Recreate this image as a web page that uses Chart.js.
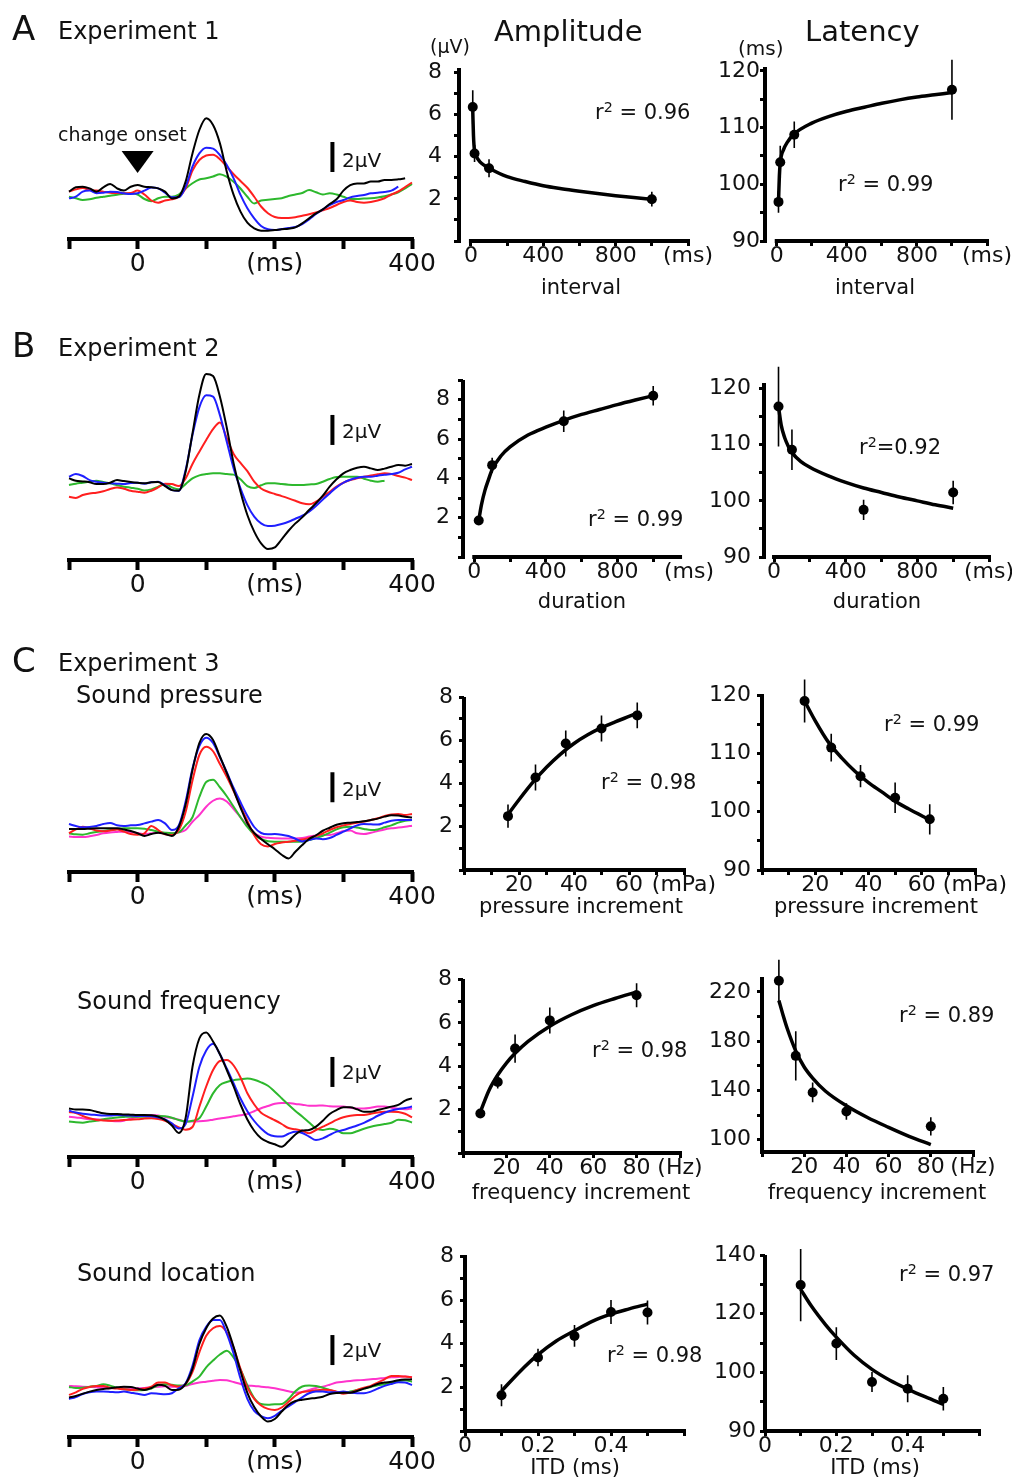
<!DOCTYPE html>
<html>
<head>
<meta charset="utf-8">
<script src="https://cdn.jsdelivr.net/npm/chart.js@4.4.1/dist/chart.umd.min.js"></script>
<style>
html,body{margin:0;padding:0;background:#fff;}
body{width:1012px;height:1481px;position:relative;overflow:hidden;font-family:"DejaVu Sans",sans-serif;color:#111;}
canvas{position:absolute;z-index:1;}
.t{position:absolute;white-space:nowrap;line-height:1;color:#111;z-index:5;font-family:"DejaVu Sans",sans-serif;}
.t sup{font-size:0.68em;vertical-align:0.5em;line-height:0;}
</style>
</head>
<body>
<script>
// ===================== DATA =====================
// ERP traces (µV), sampled every 10 ms from -100 to 400 ms
const waveTimesMs = [-100,-90,-80,-70,-60,-50,-40,-30,-20,-10,0,10,20,30,40,50,60,70,80,90,100,110,120,130,140,150,160,170,180,190,200,210,220,230,240,250,260,270,280,290,300,310,320,330,340,350,360,370,380,390,400];
const waveTickMs = [-100,0,100,200,300,400];
const waveTickLabels = ['','0','','(ms)','','400'];

// Experiment 1
const exp1Black = [-0.11,0.18,0.22,0.11,-0.11,0.18,0.4,0.11,-0.04,0.22, 0.33,0.22,0.18,0.11,-0.11,-0.56,-0.44,0.56,2.44,4.0, 4.78,4.33,3.11,1.22,-0.33,-1.44,-2.18,-2.56,-2.71,-2.71, -2.67,-2.62,-2.58,-2.49,-2.22,-1.89,-1.56,-1.29,-0.93,-0.62, -0.04,0.33,0.44,0.44,0.56,0.56,0.67,0.67,0.71,0.78, null];
const exp1Blue = [-0.56,-0.44,-0.11,-0.04,-0.22,-0.18,-0.11,-0.13,-0.22,-0.27, -0.22,-0.04,0.16,0.11,-0.18,-0.49,-0.49,0.22,1.56,2.44, 2.82,2.76,2.33,1.67,0.78,-0.33,-1.22,-1.89,-2.4,-2.62, -2.67,-2.6,-2.53,-2.47,-2.27,-1.96,-1.6,-1.29,-1.0,-0.8, -0.67,-0.49,-0.4,-0.33,-0.22,-0.18,-0.13,-0.04,0.22,null, null];
const exp1Red = [-0.11,0.04,0.13,0.0,-0.04,-0.11,-0.18,-0.2,-0.22,-0.2, -0.04,-0.3,-0.7,-0.85,-0.7,-0.62,-0.44,0.1,1.3,2.0, 2.3,2.35,2.05,1.55,1.05,0.6,0.15,-0.45,-1.1,-1.55, -1.8,-1.87,-1.87,-1.82,-1.72,-1.62,-1.5,-1.35,-1.2,-1.0, -0.8,-0.7,-0.8,-0.85,-0.8,-0.7,-0.55,-0.3,-0.1,0.2, 0.5];
const exp1Green = [-0.44,-0.55,-0.67,-0.62,-0.52,-0.45,-0.38,-0.32,-0.25,-0.22, -0.3,-0.6,-0.75,-0.55,-0.45,-0.45,-0.3,0.1,0.45,0.7, 0.78,0.9,1.05,0.88,0.55,0.1,-0.45,-0.9,-0.7,-0.65, -0.6,-0.55,-0.4,-0.3,-0.2,0.0,-0.15,-0.3,-0.22,-0.3, -0.45,-0.6,-0.6,-0.57,-0.55,-0.5,-0.42,-0.3,-0.15,0.1, 0.4];

// Experiment 2
const exp2Black = [0.22,0.07,0.02,-0.04,-0.16,-0.16,-0.07,0.11,0.04,-0.02, -0.07,-0.11,-0.04,-0.02,-0.29,-0.56,-0.6,0.67,3.22,5.78, 7.18,7.04,5.67,3.6,1.22,-0.67,-2.22,-3.33,-4.11,-4.49, -4.38,-3.84,-3.27,-2.78,-2.38,-1.89,-1.44,-0.93,-0.33,0.16, 0.56,0.78,0.93,1.0,0.89,0.78,0.87,1.0,1.11,1.07, 1.18];
const exp2Blue = [0.33,0.51,0.38,0.11,0,-0.07,-0.11,-0.13,-0.16,-0.09, -0.07,-0.13,-0.04,0,-0.24,-0.56,-0.6,0.78,3.11,4.96, 5.76,5.67,4.44,2.67,0.89,-0.44,-1.56,-2.33,-2.78,-2.96, -2.93,-2.82,-2.67,-2.47,-2.27,-2.0,-1.62,-1.18,-0.78,-0.38, -0.07,0.13,0.27,0.33,0.33,0.4,0.47,0.51,0.6,0.82, 1.0];
const exp2Red = [-1.0,-1.09,-0.89,-0.78,-0.73,-0.64,-0.49,-0.38,-0.47,-0.6, -0.67,-0.73,-0.6,-0.38,-0.13,-0.16,-0.29,0.22,1.18,2.0, 2.78,3.5,3.95,2.9,1.85,1.25,0.7,0.0,-0.45,-0.67, -0.82,-0.96,-1.11,-1.27,-1.44,-1.51,-1.33,-1.0,-0.67,-0.33, -0.07,0.11,0.22,0.33,0.42,0.49,0.56,0.51,0.38,0.27, 0.11];
const exp2Green = [-0.22,-0.13,-0.07,0,0.07,-0.02,-0.11,-0.24,-0.33,-0.4, -0.47,-0.58,-0.51,-0.33,-0.16,-0.38,-0.51,-0.16,0.22,0.42, 0.51,0.56,0.56,0.51,0.47,0.16,-0.29,-0.42,-0.24,-0.11, -0.11,-0.16,-0.2,-0.22,-0.22,-0.18,-0.16,0,0.18,0.31, 0.33,0.33,0.33,0.2,0.07,0,0.07,null,null,null, null];

// Experiment 3 - sound pressure
const presBlack = [0.07,0.07,0.07,0.09,0.11,0.11,0.11,0.11,0.04,-0.07, -0.22,-0.4,-0.27,-0.18,-0.27,-0.4,0.2,1.7,4.0,5.8, 6.4,6.0,4.9,3.8,2.65,1.5,0.45,-0.2,-0.6,-0.95, -1.28,-1.65,-1.9,-1.45,-1.0,-0.6,-0.35,-0.05,0.15,0.35, 0.45,0.49,0.53,0.58,0.67,0.76,0.89,0.98,0.96,0.89, 0.84];
const presBlue = [0.4,0.27,0.18,0.2,0.27,0.4,0.47,0.31,0.27,0.31, 0.33,0.44,0.56,0.67,0.44,0,0.3,1.9,4.1,5.6, 6.15,5.8,4.85,3.85,2.8,1.85,0.95,0.2,-0.2,-0.29, -0.27,-0.31,-0.4,-0.58,-0.76,-0.67,-0.56,-0.62,-0.53,-0.33, -0.11,0.11,0.31,0.4,0.38,0.36,0.49,0.62,0.67,0.67, 0.67];
const presRed = [-0.22,0.04,0.22,0.11,-0.04,-0.09,-0.04,0.04,-0.11,-0.27, -0.31,-0.22,0.27,0,-0.29,-0.33,0.0,1.2,3.3,5.0, 5.55,5.25,4.4,3.55,2.6,1.6,0.6,-0.35,-0.95,-1.1, -0.93,-0.84,-0.78,-0.71,-0.64,-0.53,-0.4,-0.22,0,0.18, 0.31,0.4,0.49,0.56,0.67,0.78,0.93,1.04,1.07,1.0, 1.07];
const presGreen = [-0.22,-0.29,-0.31,-0.22,-0.13,-0.07,0,0.07,0.11,0.11, 0.11,0.09,0,-0.11,-0.18,-0.22,-0.16,0.3,0.85,2.2, 3.2,3.35,2.85,2.25,1.55,0.85,0.2,-0.3,-0.6,-0.75, -0.78,-0.78,-0.78,-0.78,-0.76,-0.67,-0.53,-0.38,-0.18,0.04, 0.18,0.22,0.16,0.07,0,0.04,0.18,0.31,0.49,0.62, 0.67];
const presMagenta = [-0.44,-0.47,-0.47,-0.42,-0.33,-0.22,-0.16,-0.13,-0.11,-0.13, -0.2,-0.27,-0.22,-0.18,-0.2,-0.22,-0.15,0.0,0.55,1.0, 1.55,1.95,2.1,1.9,1.4,0.85,0.3,-0.2,-0.45,-0.52, -0.55,-0.56,-0.56,-0.56,-0.53,-0.44,-0.36,-0.33,-0.33,-0.22, -0.07,-0.04,-0.22,-0.27,-0.18,-0.07,0.04,0.11,0.16,0.22, 0.29];

// Experiment 3 - sound frequency
const freqBlack = [0.44,0.36,0.36,0.33,0.22,0.11,0.07,0.07,0.04,0.02, 0,0,-0.02,-0.11,-0.33,-0.7,-1.2,-0.2,3.2,5.1, 5.5,4.9,4.05,3.0,1.9,0.7,-0.3,-1.05,-1.55,-1.8, -1.95,-2.12,-1.75,-1.3,-1.04,-1.0,-0.78,-0.38,0.07,0.33, 0.51,0.51,0.38,0.22,0.22,0.33,0.44,0.56,0.67,0.96, 1.11];
const freqBlue = [0.29,0.16,0.09,0.04,0,-0.04,-0.04,0,-0.02,-0.04, -0.07,-0.07,-0.09,-0.16,-0.29,-0.56,-0.9,-0.6,1.2,3.2, 4.3,4.75,4.05,3.1,2.1,1.1,0.25,-0.4,-0.9,-1.27, -1.42,-1.44,-1.25,-1.12,-1.2,-1.44,-1.67,-1.56,-1.33,-1.11, -1.0,-0.85,-0.7,-0.52,-0.3,-0.05,0.15,0.3,0.4,0.46, 0.56];
const freqRed = [0.2,0.13,-0.07,-0.22,-0.33,-0.36,-0.38,-0.36,-0.33,-0.31, -0.29,-0.24,-0.22,-0.27,-0.38,-0.6,-0.82,-0.98,-0.8,0.55, 1.9,3.0,3.6,3.66,3.3,2.5,1.45,0.7,0.15,-0.12, -0.35,-0.6,-0.87,-0.95,-1.05,-1.22,-1.0,-0.78,-0.56,-0.33, -0.15,-0.05,0,0,0.08,0.16,0.21,0.22,0.2,0.08, -0.16];
const freqGreen = [-0.44,-0.49,-0.51,-0.44,-0.38,-0.29,-0.22,-0.16,-0.13,-0.11, -0.11,-0.11,-0.09,-0.07,-0.09,-0.18,-0.33,-0.44,-0.38,-0.22, 0.56,1.44,2.0,2.2,2.32,2.38,2.43,2.35,2.18,1.95, 1.55,1.12,0.68,0.27,-0.1,-0.5,-0.89,-1.0,-0.92,-1.0, -1.22,-1.22,-1.08,-0.92,-0.78,-0.68,-0.6,-0.52,-0.32,-0.35, -0.5];
const freqMagenta = [-0.11,-0.16,-0.22,-0.27,-0.29,-0.33,-0.38,-0.42,-0.38,-0.24, -0.11,-0.04,0,-0.04,-0.13,-0.2,-0.31,-0.44,-0.44,-0.42, -0.38,-0.31,-0.24,-0.16,-0.09,-0.02,0.07,0.25,0.45,0.6, 0.75,0.8,0.8,0.73,0.69,0.62,0.62,0.64,0.58,0.56, 0.56,0.49,0.44,0.44,0.49,0.56,0.56,0.49,0.42,0.38, 0.44];

// Experiment 3 - sound location
const locBlack = [-0.62,-0.51,-0.36,-0.22,-0.11,-0.04,0,0.07,0.11,0.09, -0.02,-0.11,0.02,0.24,0.16,-0.11,-0.09,0.3,1.3,2.95, 4.0,4.65,4.85,4.1,2.75,1.15,-0.3,-1.25,-1.88,-2.22, -2.05,-1.55,-1.1,-0.85,-0.76,-0.69,-0.64,-0.56,-0.38,-0.31, -0.29,-0.29,-0.18,-0.02,0.11,0.29,0.38,0.44,0.53,0.58, 0.6];
const locBlue = [-0.71,-0.58,-0.38,-0.27,-0.22,-0.22,-0.24,-0.27,-0.22,-0.29, -0.36,-0.44,-0.33,-0.36,-0.4,-0.33,0,0.33,1.5,3.2, 4.1,4.55,4.55,3.65,2.3,0.65,-0.7,-1.5,-1.85,-2.0, -1.84,-1.5,-1.2,-0.9,-0.6,-0.33,-0.22,-0.22,-0.27,-0.27, -0.22,-0.29,-0.33,-0.33,-0.22,-0.02,0.16,0.29,0.4,0.38, 0.22];
const locRed = [-0.44,-0.27,-0.04,0.09,0.16,0.16,0.04,-0.02,-0.07,-0.11, -0.09,-0.02,0.11,0.38,0.38,0.2,0.11,0.29,1.1,2.4, 3.5,4.0,4.15,3.72,2.7,1.3,0.05,-0.7,-1.15,-1.37, -1.44,-1.28,-0.9,-0.5,-0.25,-0.2,-0.13,-0.09,-0.11,-0.22, -0.36,-0.29,-0.11,0.04,0.16,0.38,0.6,0.82,0.82,0.78, 0.73];
const locGreen = [0.09,0.02,0.04,0.11,0.16,0.27,0.18,0.04,-0.04,-0.11, -0.13,-0.11,-0.02,0.2,0.27,0.24,0.18,0.2,0.45,0.78, 1.4,1.85,2.25,2.5,2.05,1.25,0.2,-0.65,-1.05,-1.1, -1.06,-1.04,-0.72,-0.2,0.12,0.18,0.16,0.04,-0.11,-0.24, -0.29,-0.22,-0.11,-0.02,0.09,0.2,0.27,0.38,0.47,0.53, 0.44];
const locMagenta = [0.16,0.13,0.11,0.09,0.07,0.02,0,0.02,0.02,0, 0,0.02,0.07,0.11,0.13,0.11,0.11,0.16,0.29,0.38, 0.44,0.51,0.56,0.53,0.42,0.29,0.18,0.16,0.11,0.07, 0,-0.09,-0.2,-0.29,-0.24,-0.11,0.02,0.11,0.24,0.38, 0.44,0.49,0.53,0.56,0.6,0.64,0.69,0.73,0.76,0.78, 0.73];

// Experiment 1: interval
const intervalMs = [10, 20, 100, 1000];
const intervalAmpUV = [6.35, 4.15, 3.45, 1.98];
const intervalAmpErr = [0.8, 0.4, 0.43, 0.35];
const intervalAmpFitMs = [10,14,20,30,50,75,100,200,300,400,500,600,700,800,900,1000];
const intervalAmpFitUV = [6.2,5.0,4.25,4.0,3.75,3.58,3.45,3.05,2.82,2.62,2.48,2.36,2.25,2.15,2.06,1.98];
const intervalLatMs = [96.9, 103.9, 108.75, 116.7];
const intervalLatErr = [1.9, 2.9, 2.35, 5.3];
const intervalLatFitX = [10,15,20,40,60,100,200,300,400,500,600,700,800,900,1000];
const intervalLatFitMs = [96.8,101.5,103.8,106.2,107.4,108.9,110.8,112.0,112.9,113.6,114.3,114.9,115.4,115.8,116.2];

// Experiment 2: duration
const durationMs = [25, 100, 500, 1000];
const durationAmpUV = [1.86, 4.67, 6.9, 8.2];
const durationAmpErr = [0.15, 0.38, 0.55, 0.5];
const durationAmpFitMs = [25,40,60,80,100,150,200,300,400,500,600,700,800,900,1000];
const durationAmpFitUV = [1.86,2.65,3.4,3.95,4.45,5.15,5.6,6.2,6.6,6.95,7.25,7.5,7.75,7.98,8.2];
const durationLatMs = [116.8, 109.1, 98.4, 101.5];
const durationLatErr = [7.1, 3.6, 1.8, 2.1];
const durationLatFitX = [25,40,60,80,100,150,200,300,400,500,600,700,800,900,1000];
const durationLatFitMs = [116.8,113.5,111.2,109.7,108.6,107,106,104.5,103.3,102.3,101.5,100.7,100,99.3,98.7];

// Experiment 3: pressure increment (mPa)
const pressureMPa = [16, 26, 37, 50, 63];
const pressureAmpUV = [2.49, 4.28, 5.85, 6.54, 7.15];
const pressureAmpErr = [0.54, 0.6, 0.6, 0.6, 0.6];
const pressureAmpFitMPa = [15,20,25,30,35,40,45,50,55,60,64];
const pressureAmpFitUV = [2.4,3.25,4.05,4.75,5.35,5.85,6.25,6.58,6.85,7.1,7.3];
const pressureLatMs = [119.0, 111.0, 106.1, 102.4, 98.7];
const pressureLatErr = [3.7, 2.4, 1.9, 2.6, 2.6];
const pressureLatFitMPa = [16,20,25,30,35,40,45,50,55,63];
const pressureLatFitMs = [119,115.6,111.9,109.2,106.9,105.0,103.4,101.8,100.5,98.6];

// Experiment 3: frequency increment (Hz)
const freqHz = [8, 16, 24, 40, 80];
const freqAmpUV = [1.82, 3.28, 4.82, 6.12, 7.28];
const freqAmpErr = [0.2, 0.3, 0.65, 0.6, 0.55];
const freqAmpFitHz = [8,12,16,20,24,30,40,50,60,70,80];
const freqAmpFitUV = [1.9,2.9,3.6,4.15,4.6,5.15,5.85,6.38,6.8,7.13,7.43];
const freqLatMs = [228.9, 168, 138.3, 122.9, 110.8];
const freqLatErr = [17, 20, 8, 6.7, 7.4];
const freqLatFitHz = [8,10,12,16,20,24,30,40,50,60,70,80];
const freqLatFitMs = [213,201,190,172,159,150,139.5,127.5,118,110,102.5,96];

// Experiment 3: ITD (ms)
const itdMs = [0.1, 0.2, 0.3, 0.4, 0.5];
const itdAmpUV = [1.64, 3.37, 4.36, 5.46, 5.43];
const itdAmpErr = [0.5, 0.4, 0.5, 0.55, 0.55];
const itdAmpFitMs = [0.1,0.15,0.2,0.25,0.3,0.35,0.4,0.45,0.5];
const itdAmpFitUV = [1.83,2.72,3.5,4.13,4.6,5.04,5.36,5.6,5.82];
const itdLatMs = [129.75, 109.8, 96.7, 94.4, 91.0];
const itdLatErr = [12.3, 5.6, 3.4, 4.6, 4.0];
const itdLatFitX = [0.1,0.13,0.17,0.2,0.25,0.3,0.35,0.4,0.45,0.5];
const itdLatFitMs = [128.3,122.6,116.2,112,105.8,101,97.3,94.3,91.6,89.1];

// Tick values and labels
const msTicks = [0,200,400,600,800,1000,1200];
const msTickLabels = ['0','','400','','800','','(ms)'];
const ampTicks8 = [0,1,2,3,4,5,6,7,8];
const ampTickLabels8 = ['','','2','','4','','6','','8'];
const ampTicks9 = [0,1,2,3,4,5,6,7,8,9];
const ampTickLabels9 = ['','','2','','4','','6','','8',''];
const latTicks = [90,95,100,105,110,115,120];
const latTickLabels = ['90','','100','','110','','120'];
const pressureTicks = [0,10,20,30,40,50,60,70,80];
const pressureTickLabels = ['','','20','','40','','60','','(mPa)'];
const freqTicks = [0,20,40,60,80,100];
const freqTickLabels = ['','20','40','60','80','(Hz)'];
const freqLatTicks = [100,120,140,160,180,200,220];
const freqLatTickLabels = ['100','','140','','180','','220'];
const itdTicks = [0,0.1,0.2,0.3,0.4,0.5,0.6];
const itdTickLabels = ['0','','0.2','','0.4','',''];
const itdLatTicks = [80,90,100,110,120,130,140];
const itdLatTickLabels = ['90','','100','','120','','140'];

// ===================== RENDERING =====================
const FONT = '"DejaVu Sans", sans-serif';
const COL = {black:'#000000', blue:'#1f1fff', red:'#ff1f1f', green:'#2db82d', magenta:'#ff33cc'};

function placeCanvas(left, top, w, h) {
  const c = document.createElement('canvas');
  c.width = w; c.height = h;
  c.style.left = left + 'px'; c.style.top = top + 'px';
  c.style.width = w + 'px'; c.style.height = h + 'px';
  document.body.appendChild(c);
  return c.getContext('2d');
}
function addText(html, x, baseline, size, align) {
  const d = document.createElement('div');
  d.className = 't';
  d.innerHTML = html;
  d.style.fontSize = size + 'px';
  d.style.top = (baseline - 0.846 * size) + 'px';
  d.style.left = x + 'px';
  if (align === 'center') d.style.transform = 'translateX(-50%)';
  document.body.appendChild(d);
}
function explicitTicks(values) {
  return function (scale) { scale.ticks = values.map(v => ({ value: v })); };
}
function labelFrom(values, labels) {
  return function (value) { const i = values.indexOf(value); return i >= 0 ? labels[i] : ''; };
}
function decorPlugin(d) {
  return {
    id: 'decor',
    beforeDatasetsDraw(chart) {
      const ctx = chart.ctx, a = chart.chartArea, xs = chart.scales.x, ys = chart.scales.y;
      const w = d.axisWidth;
      ctx.save();
      ctx.strokeStyle = '#000'; ctx.fillStyle = '#000'; ctx.lineCap = 'butt';
      ctx.lineWidth = w;
      if (d.xLine) {
        ctx.beginPath();
        ctx.moveTo(xs.getPixelForValue(d.xLine[0]) - w / 2, a.bottom);
        ctx.lineTo(xs.getPixelForValue(d.xLine[1]) + w / 2, a.bottom);
        ctx.stroke();
      }
      if (d.yLine) {
        ctx.beginPath();
        ctx.moveTo(a.left, ys.getPixelForValue(d.yLine[0]) + w / 2);
        ctx.lineTo(a.left, ys.getPixelForValue(d.yLine[1]));
        ctx.stroke();
      }
      if (d.scaleBar) {
        const x = xs.getPixelForValue(d.scaleBarX);
        ctx.lineWidth = 4;
        ctx.beginPath();
        ctx.moveTo(x, ys.getPixelForValue(d.scaleBar[0]));
        ctx.lineTo(x, ys.getPixelForValue(d.scaleBar[1]));
        ctx.stroke();
      }
      if (d.onset) {
        const x = xs.getPixelForValue(d.onset.t);
        const yA = ys.getPixelForValue(d.onset.apex), yT = ys.getPixelForValue(d.onset.top);
        ctx.beginPath();
        ctx.moveTo(x - 16, yT); ctx.lineTo(x + 16, yT); ctx.lineTo(x, yA); ctx.closePath();
        ctx.fill();
      }
      ctx.restore();
    }
  };
}
const baseOpts = {
  responsive: false, animation: false, devicePixelRatio: 1, events: [],
  plugins: { legend: { display: false }, tooltip: { enabled: false } }
};

function makeWave(spec) {
  const L = 40, R = 40, T = 5, B = 45, H = 195;
  const left = 69, right = 412;
  const ctx = placeCanvas(left - L, spec.axisY - H - T, right - left + L + R, H + T + B);
  const yMin = -(spec.axisY - spec.baseY) / 15;
  const yMax = yMin + H / 15;
  const datasets = spec.traces.map(([vals, color]) => ({
    data: waveTimesMs.map((t, i) => ({ x: t, y: vals[i] })),
    borderColor: color, borderWidth: 2, pointRadius: 0,
    cubicInterpolationMode: 'monotone', clip: false, spanGaps: false
  }));
  new Chart(ctx, {
    type: 'line',
    data: { datasets },
    options: Object.assign({}, baseOpts, {
      layout: { padding: { left: L, right: R, top: T, bottom: 0 } },
      scales: {
        x: {
          type: 'linear', min: -100, max: 400,
          afterBuildTicks: explicitTicks(waveTickMs),
          afterFit: s => { s.height = B; },
          ticks: { callback: labelFrom(waveTickMs, waveTickLabels), autoSkip: false, maxRotation: 0, minRotation: 0, padding: 0, color: '#111', font: { family: FONT, size: 25 } },
          grid: { display: true, drawOnChartArea: false, drawTicks: true, tickLength: 10, tickWidth: 4, tickColor: '#000' },
          border: { display: false }
        },
        y: { display: false, min: yMin, max: yMax }
      }
    }),
    plugins: [decorPlugin({ axisWidth: 4, xLine: [-100, 400], scaleBar: spec.scaleBar, scaleBarX: 284, onset: spec.onset })]
  });
}

function makeScatter(s) {
  const L = 60, R = 45, T = 30, B = 40;
  const a = s.area;
  const ctx = placeCanvas(a.l - L, a.t - T, a.r - a.l + L + R, a.b - a.t + T + B);
  const pts = s.x.map((v, i) => ({ x: v, y: s.y[i] }));
  const err = [];
  s.x.forEach((v, i) => { err.push({ x: v, y: s.y[i] - s.e[i] }, { x: v, y: s.y[i] + s.e[i] }, { x: v, y: null }); });
  const fit = s.fx.map((v, i) => ({ x: v, y: s.fy[i] }));
  const noMark = s.noMark || [];
  new Chart(ctx, {
    type: 'line',
    data: { datasets: [
      { data: pts, showLine: false, pointRadius: 5, pointBackgroundColor: '#000', pointBorderWidth: 0, borderColor: '#000', clip: false },
      { data: err, borderColor: '#000', borderWidth: 1.6, pointRadius: 0, spanGaps: false, clip: false },
      { data: fit, borderColor: '#000', borderWidth: 3.5, pointRadius: 0, cubicInterpolationMode: 'monotone', clip: false }
    ] },
    options: Object.assign({}, baseOpts, {
      layout: { padding: { left: 0, right: R, top: T, bottom: 0 } },
      scales: {
        x: {
          type: 'linear', min: s.xr[0], max: s.xr[1],
          afterBuildTicks: explicitTicks(s.xt),
          afterFit: sc => { sc.height = B; },
          ticks: { callback: labelFrom(s.xt, s.xl), autoSkip: false, maxRotation: 0, minRotation: 0, padding: -3, color: '#111', font: { family: FONT, size: 22 } },
          grid: { display: true, drawOnChartArea: false, drawTicks: true, tickLength: 5, tickWidth: 3,
                  tickColor: c => (c.tick && noMark.includes(c.tick.value)) ? 'rgba(0,0,0,0)' : '#000' },
          border: { display: false }
        },
        y: {
          type: 'linear', min: s.yr[0], max: s.yr[1],
          afterBuildTicks: explicitTicks(s.yt),
          afterFit: sc => { sc.width = L; },
          ticks: { callback: labelFrom(s.yt, s.yl), autoSkip: false, padding: s.yPad, color: '#111', font: { family: FONT, size: 22 } },
          grid: { display: true, drawOnChartArea: false, drawTicks: true, tickLength: 5, tickWidth: 3, tickColor: '#000' },
          border: { display: false }
        }
      }
    }),
    plugins: [decorPlugin({ axisWidth: 4, xLine: s.xLine, yLine: [s.yr[0], s.yr[1]] })]
  });
}

// ---- waveform panels ----
makeWave({ axisY: 239, baseY: 190, scaleBar: [1.2, 3.2], onset: { t: 0, apex: 1.13, top: 2.6 },
  traces: [[exp1Black, COL.black], [exp1Blue, COL.blue], [exp1Red, COL.red], [exp1Green, COL.green]] });
makeWave({ axisY: 560, baseY: 481.7, scaleBar: [2.45, 4.45],
  traces: [[exp2Black, COL.black], [exp2Blue, COL.blue], [exp2Red, COL.red], [exp2Green, COL.green]] });
makeWave({ axisY: 872, baseY: 830, scaleBar: [1.85, 3.85],
  traces: [[presBlack, COL.black], [presBlue, COL.blue], [presRed, COL.red], [presGreen, COL.green], [presMagenta, COL.magenta]] });
makeWave({ axisY: 1157, baseY: 1115, scaleBar: [1.87, 3.87],
  traces: [[freqBlack, COL.black], [freqBlue, COL.blue], [freqRed, COL.red], [freqGreen, COL.green], [freqMagenta, COL.magenta]] });
makeWave({ axisY: 1437, baseY: 1388.3, scaleBar: [1.55, 3.55],
  traces: [[locBlack, COL.black], [locBlue, COL.blue], [locRed, COL.red], [locGreen, COL.green], [locMagenta, COL.magenta]] });

// ---- amplitude / latency panels ----
makeScatter({ area: { l: 459, t: 68, r: 688, b: 241 }, xr: [-66, 1200], yr: [0, 8.2], xLine: [0, 1200],
  xt: msTicks, xl: msTickLabels, yt: ampTicks8, yl: ampTickLabels8, yPad: 12,
  x: intervalMs, y: intervalAmpUV, e: intervalAmpErr, fx: intervalAmpFitMs, fy: intervalAmpFitUV });
makeScatter({ area: { l: 765, t: 67, r: 987, b: 241 }, xr: [-67, 1200], yr: [90, 120.7], xLine: [0, 1200],
  xt: msTicks, xl: msTickLabels, yt: latTicks, yl: latTickLabels, yPad: 0,
  x: intervalMs, y: intervalLatMs, e: intervalLatErr, fx: intervalLatFitX, fy: intervalLatFitMs });

makeScatter({ area: { l: 463, t: 380, r: 689, b: 557 }, xr: [-63, 1200], yr: [0, 9], xLine: [0, 1150], noMark: [1200],
  xt: msTicks, xl: msTickLabels, yt: ampTicks9, yl: ampTickLabels9, yPad: 8,
  x: durationMs, y: durationAmpUV, e: durationAmpErr, fx: durationAmpFitMs, fy: durationAmpFitUV });
makeScatter({ area: { l: 764, t: 383, r: 989, b: 557 }, xr: [-56, 1200], yr: [90, 121], xLine: [0, 1200],
  xt: msTicks, xl: msTickLabels, yt: latTicks, yl: latTickLabels, yPad: 8,
  x: durationMs, y: durationLatMs, e: durationLatErr, fx: durationLatFitX, fy: durationLatFitMs });

makeScatter({ area: { l: 464, t: 697, r: 684, b: 870 }, xr: [0, 80], yr: [0, 8], xLine: [0, 80],
  xt: pressureTicks, xl: pressureTickLabels, yt: ampTicks8, yl: ampTickLabels8, yPad: 6,
  x: pressureMPa, y: pressureAmpUV, e: pressureAmpErr, fx: pressureAmpFitMPa, fy: pressureAmpFitUV });
makeScatter({ area: { l: 762, t: 694, r: 975, b: 870 }, xr: [0, 80], yr: [90, 120.2], xLine: [0, 80],
  xt: pressureTicks, xl: pressureTickLabels, yt: latTicks, yl: latTickLabels, yPad: 6,
  x: pressureMPa, y: pressureLatMs, e: pressureLatErr, fx: pressureLatFitMPa, fy: pressureLatFitMs });

makeScatter({ area: { l: 463, t: 979, r: 680, b: 1153 }, xr: [0, 100], yr: [0, 8.03], xLine: [0, 100],
  xt: freqTicks, xl: freqTickLabels, yt: ampTicks8, yl: ampTickLabels8, yPad: 6,
  x: freqHz, y: freqAmpUV, e: freqAmpErr, fx: freqAmpFitHz, fy: freqAmpFitUV });
makeScatter({ area: { l: 762, t: 977, r: 973, b: 1152 }, xr: [0, 100], yr: [90, 232], xLine: [0, 100],
  xt: freqTicks, xl: freqTickLabels, yt: freqLatTicks, yl: freqLatTickLabels, yPad: 6,
  x: freqHz, y: freqLatMs, e: freqLatErr, fx: freqLatFitHz, fy: freqLatFitMs });

makeScatter({ area: { l: 465, t: 1255, r: 684, b: 1431 }, xr: [0, 0.6], yr: [0, 8.07], xLine: [0, 0.6],
  xt: itdTicks, xl: itdTickLabels, yt: ampTicks8, yl: ampTickLabels8, yPad: 6,
  x: itdMs, y: itdAmpUV, e: itdAmpErr, fx: itdAmpFitMs, fy: itdAmpFitUV });
makeScatter({ area: { l: 765, t: 1255, r: 979, b: 1431 }, xr: [0, 0.6], yr: [80, 140], xLine: [0, 0.6],
  xt: itdTicks, xl: itdTickLabels, yt: itdLatTicks, yl: itdLatTickLabels, yPad: 4,
  x: itdMs, y: itdLatMs, e: itdLatErr, fx: itdLatFitX, fy: itdLatFitMs });

// ---- text ----
addText('A', 12, 40, 34);
addText('Experiment 1', 58, 39, 24);
addText('change onset', 58, 141, 19);
addText('Amplitude', 494, 42, 29);
addText('Latency', 805, 42, 29);
addText('(μV)', 430, 53, 19);
addText('(ms)', 738, 55, 20);
addText('2μV', 342, 167, 20);
addText('interval', 581, 295, 21, 'center');
addText('interval', 875, 295, 21, 'center');
addText('r<sup>2</sup> = 0.96', 595, 120, 21);
addText('r<sup>2</sup> = 0.99', 838, 192, 21);

addText('B', 12, 357, 34);
addText('Experiment 2', 58, 356, 24);
addText('2μV', 342, 438, 20);
addText('duration', 582, 609, 21, 'center');
addText('duration', 877, 609, 21, 'center');
addText('r<sup>2</sup> = 0.99', 588, 527, 21);
addText('r<sup>2</sup>=0.92', 859, 455, 21);

addText('C', 12, 672, 34);
addText('Experiment 3', 58, 671, 24);
addText('Sound pressure', 76, 703, 24);
addText('2μV', 342, 796, 20);
addText('pressure increment', 581, 914, 21, 'center');
addText('pressure increment', 876, 914, 21, 'center');
addText('r<sup>2</sup> = 0.98', 601, 790, 21);
addText('r<sup>2</sup> = 0.99', 884, 732, 21);

addText('Sound frequency', 77, 1009, 24);
addText('2μV', 342, 1079, 20);
addText('frequency increment', 581, 1200, 21, 'center');
addText('frequency increment', 877, 1200, 21, 'center');
addText('r<sup>2</sup> = 0.98', 592, 1058, 21);
addText('r<sup>2</sup> = 0.89', 899, 1023, 21);

addText('Sound location', 77, 1281, 24);
addText('2μV', 342, 1357, 20);
addText('ITD (ms)', 575, 1475, 21, 'center');
addText('ITD (ms)', 875, 1475, 21, 'center');
addText('r<sup>2</sup> = 0.98', 607, 1363, 21);
addText('r<sup>2</sup> = 0.97', 899, 1282, 21);
</script>
</body>
</html>
